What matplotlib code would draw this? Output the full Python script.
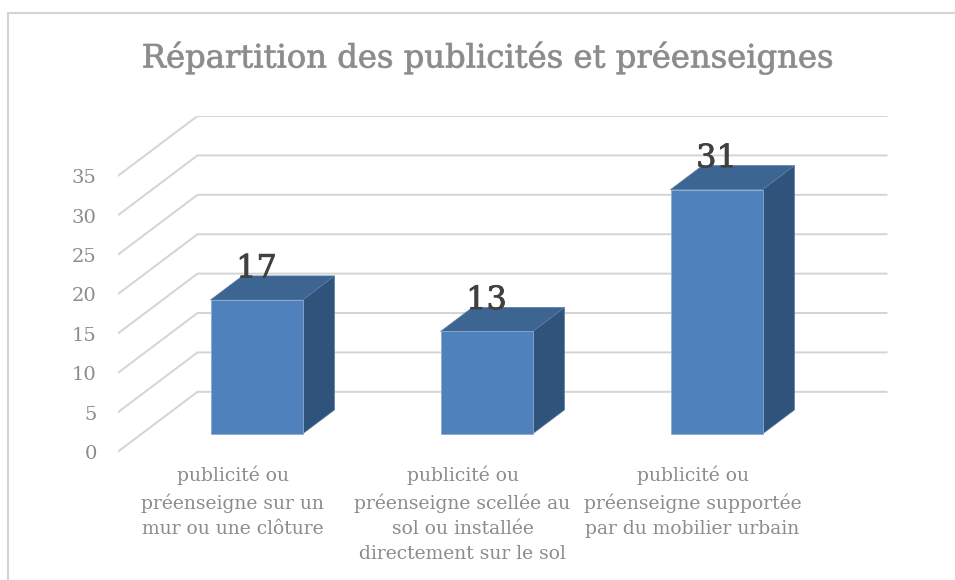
import numpy as np
import matplotlib
matplotlib.use("Agg")
import matplotlib.pyplot as plt
import matplotlib.patheffects as pe
from matplotlib.patches import Polygon, Rectangle
from matplotlib.lines import Line2D

categories = ["publicité ou\npréenseigne sur un\nmur ou une clôture",
              "publicité ou\npréenseigne scellée au\nsol ou installée\ndirectement sur le sol",
              "publicité ou\npréenseigne supportée\npar du mobilier urbain"]
values = [17, 13, 31]
yticks = [0, 5, 10, 15, 20, 25, 30, 35]
title = "Répartition des publicités et préenseignes"

front_col = '#4f81bd'
top_col = '#3c6591'
side_col = '#30537b'
grid_col = '#d4d4d4'
text_col = '#8c8c8c'

W, H = 955, 580
fig = plt.figure(figsize=(W / 100, H / 100), dpi=100)
plt.rcParams['font.family'] = ['DejaVu Serif']

# oblique depth offset (full depth) in data units
DX = 80 / 230
DY = 60 * 35 / 275
d0, d1 = 0.3, 0.7
bw = 0.4

ymax = yticks[-1]
ax = fig.add_axes([117.5 / W, (H - 452) / H, 770 / W, 336 / H])
ax.set_xlim(-0.5, len(values) - 0.5 + DX)
ax.set_ylim(0, ymax + DY)
for s in ax.spines.values():
    s.set_visible(False)

# side wall + back wall gridlines
for v in yticks:
    ax.plot([-0.5, -0.5 + DX, len(values) - 0.5 + DX], [v, v + DY, v + DY],
            color=grid_col, lw=1.4, zorder=1, solid_capstyle='butt')

# 3D bars
for i, v in enumerate(values):
    x0 = i - bw / 2 + DX * d0
    x1 = i + bw / 2 + DX * d0
    yb = DY * d0
    ddx = DX * (d1 - d0)
    ddy = DY * (d1 - d0)
    ax.add_patch(Polygon([[x1, yb], [x1 + ddx, yb + ddy], [x1 + ddx, yb + ddy + v], [x1, yb + v]],
                         closed=True, facecolor=side_col, edgecolor='#5a7aa6', lw=0.5, zorder=3))
    ax.add_patch(Polygon([[x0, yb + v], [x1, yb + v], [x1 + ddx, yb + ddy + v], [x0 + ddx, yb + ddy + v]],
                         closed=True, facecolor=top_col, edgecolor='#5a7aa6', lw=0.5, zorder=3))
    ax.add_patch(Rectangle((x0, yb), x1 - x0, v, facecolor=front_col,
                           edgecolor='#8fa9d0', lw=0.6, zorder=4))
    ax.text(i + DX * d0, yb + ddy + v - 0.2, str(v), ha='center', va='baseline',
            fontsize=23, color='#404040', zorder=5,
            path_effects=[pe.withStroke(linewidth=0.6, foreground='#404040')])

ax.set_yticks(yticks)
ax.set_yticklabels([str(t) for t in yticks], fontsize=14, color=text_col)
ax.set_xticks(range(len(values)))
ax.set_xticklabels(categories, fontsize=13.5, color=text_col, linespacing=1.5, va='top')
ax.tick_params(axis='y', length=0, pad=15)
ax.tick_params(axis='x', length=0, pad=10)

fig.text(487 / W, 1 - 58 / H, title, ha='center', va='center', fontsize=23.2, color=text_col,
         path_effects=[pe.withStroke(linewidth=0.6, foreground='#a0a0a0')])

# chart border (cut off at the right and bottom)
fig.add_artist(Line2D([7.5 / W, 7.5 / W, 1.0], [0.0, 1 - 12.5 / H, 1 - 12.5 / H],
                      transform=fig.transFigure, color=grid_col, lw=1.5))

fig.savefig("out.png", dpi=100)
